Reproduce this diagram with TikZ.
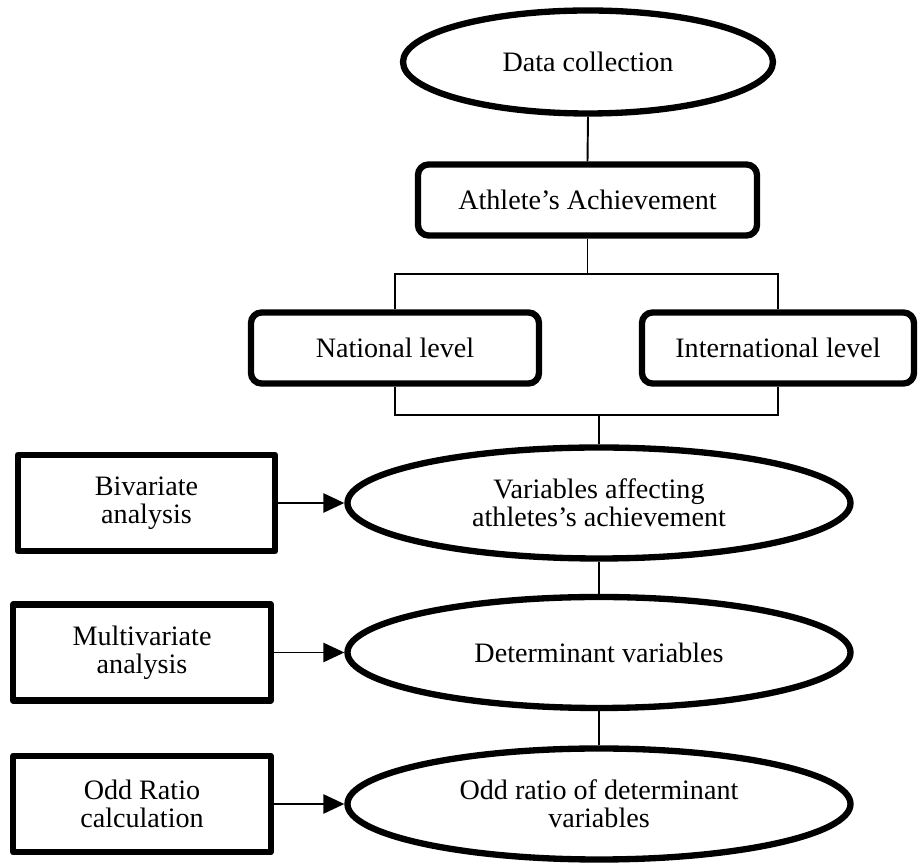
\documentclass[tikz,border=0pt]{standalone}
\usepackage{fontspec}
\setmainfont{Liberation Serif}
\usetikzlibrary{shapes.geometric,arrows.meta}

\begin{document}
\begin{tikzpicture}[
    oval/.style={draw,ellipse,line width=3.6pt,minimum width=10.06cm,minimum height=2.22cm,inner sep=0pt,align=center},
    stage/.style={draw,rectangle,rounded corners=6pt,line width=3.6pt,minimum height=1.42cm,inner sep=0pt,align=center},
    method/.style={draw,rectangle,line join=round,line width=3.6pt,minimum width=5.15cm,minimum height=1.92cm,inner sep=0pt,align=center},
    link/.style={line width=1.1pt},
    >={Triangle[length=12pt,width=11pt]},
    font=\fontsize{16}{16}\selectfont]
            \useasboundingbox (0,0) rectangle (18.38,17.26);
            % top part
            \node[oval,minimum width=7.40cm,minimum height=2.06cm] (collect) at (11.76,16.02) {Data collection};
            \node[stage,minimum width=6.78cm] (achieve) at (11.75,13.26) {Athlete’s Achievement};
            \node[stage,minimum width=5.76cm] (national) at (7.90,10.30) {National level};
            \node[stage,minimum width=5.44cm] (intl) at (15.56,10.30) {International level};
            % analysis chain
            \node[oval] (affect) at (11.98,7.20) {Variables affecting\\athletes’s achievement};
            \node[oval] (determ) at (11.98,4.21) {Determinant variables};
            \node[oval] (ratio) at (11.98,1.18) {Odd ratio of determinant\\variables};
            \node[method] (bivar) at (2.93,7.20) {Bivariate\\analysis};
            \node[method] (multi) at (2.84,4.21) {Multivariate\\analysis};
            \node[method] (oddcalc) at (2.84,1.18) {Odd Ratio\\calculation};
            % connectors
            \coordinate (upper) at (11.75,11.78);
            \coordinate (lower) at (11.98,8.96);
            \draw[link] (collect.south)--(achieve.north);
            \draw[link] (achieve.south)--(upper);
            \draw[link] (national.north) |- (upper) -| (intl.north);
            \draw[link] (national.south) |- (lower) -| (intl.south);
            \draw[link] (lower)--(affect.north);
            \draw[link] (affect)--(determ);
            \draw[link] (determ)--(ratio);
            \foreach \src/\dst in {bivar/affect,multi/determ,oddcalc/ratio}{
                \draw[link,->] (\src)--(\dst);
            }
        \end{tikzpicture}
\end{document}
